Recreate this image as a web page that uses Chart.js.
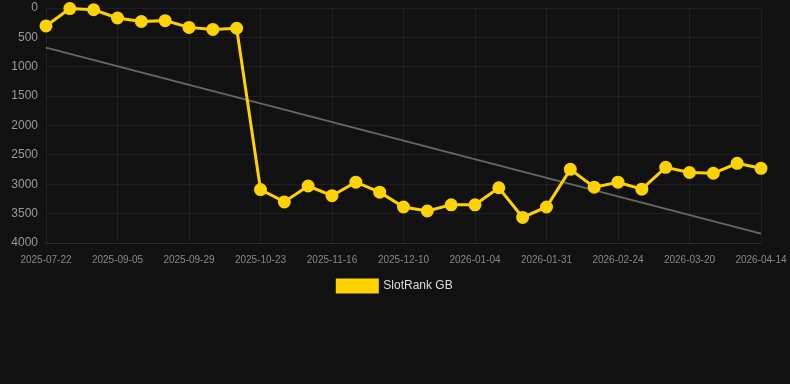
<!DOCTYPE html>
<html>
<head>
<meta charset="utf-8">
<script src="https://cdn.jsdelivr.net/npm/chart.js@4"></script>
<style>
  html, body { margin: 0; padding: 0; background: #111111; }
  #wrap { width: 790px; height: 302px; position: relative; }
</style>
</head>
<body>
<div id="wrap"><canvas id="rankChart"></canvas></div>
<script>
  // dates of the observations
  const dates = [
    '2025-07-22', '2025-08-06', '2025-08-21', '2025-09-05', '2025-09-13', '2025-09-21',
    '2025-09-29', '2025-10-07', '2025-10-15', '2025-10-23', '2025-10-31', '2025-11-08',
    '2025-11-16', '2025-11-24', '2025-12-02', '2025-12-10', '2025-12-18', '2025-12-27',
    '2026-01-04', '2026-01-13', '2026-01-22', '2026-01-31', '2026-02-08', '2026-02-16',
    '2026-02-24', '2026-03-04', '2026-03-12', '2026-03-20', '2026-03-28', '2026-04-06',
    '2026-04-14'
  ];
  // rank values (lower is better)
  const rankGB = [
    305, 10, 30, 170, 230, 215, 330, 365, 345,
    3090, 3300, 3030, 3195, 2965, 3135, 3387, 3455, 3350, 3350,
    3060, 3565, 3387, 2746, 3050, 2965, 3083, 2712, 2800, 2813,
    2644, 2729
  ];
  // trend line end points
  const trendStart = 675;
  const trendEnd = 3840;
  const yTicks = [0, 500, 1000, 1500, 2000, 2500, 3000, 3500, 4000];

  const trend = dates.map((d, i) => i === 0 ? trendStart : (i === dates.length - 1 ? trendEnd : null));

  const gridColor = 'rgba(255,255,255,0.06)';

  const ctx = document.getElementById('rankChart');
  new Chart(ctx, {
    type: 'line',
    data: {
      labels: dates,
      datasets: [{
        label: 'SlotRank GB',
        data: rankGB,
        borderColor: '#FFD200',
        backgroundColor: '#FFD200',
        borderWidth: 3,
        pointRadius: 5,
        pointHoverRadius: 5,
        pointBackgroundColor: '#FFD200',
        pointBorderColor: '#FFD200',
        tension: 0,
        clip: 8
      }, {
        label: 'trend',
        data: trend,
        spanGaps: true,
        borderColor: '#666666',
        borderWidth: 2,
        pointRadius: 0,
        tension: 0
      }]
    },
    options: {
      responsive: true,
      maintainAspectRatio: false,
      animation: false,
      layout: { padding: { top: -2 } },
      plugins: {
        legend: {
          position: 'bottom',
          labels: {
            color: '#dddddd',
            font: { family: 'Liberation Sans, Arial', size: 12 },
            boxWidth: 40,
            boxHeight: 12,
            padding: 6,
            filter: item => item.text !== 'trend'
          }
        },
        tooltip: { enabled: false }
      },
      scales: {
        x: {
          afterFit: axis => {
            axis.height = 31;
            axis.paddingLeft = 0;
            axis.paddingRight = 29;
            axis.paddingTop = 0;
            axis.paddingBottom = 0;
          },
          grid: {
            color: c => (c.tick && c.tick.label ? gridColor : 'transparent'),
            drawTicks: false
          },
          border: { color: gridColor },
          ticks: {
            color: '#888888',
            font: { family: 'Liberation Sans, Arial', size: 10 },
            maxRotation: 0,
            autoSkip: false,
            padding: 11,
            callback: function (value, index) {
              return index % 3 === 0 ? this.getLabelForValue(value) : '';
            }
          }
        },
        y: {
          reverse: true,
          min: 0,
          max: 4000,
          afterBuildTicks: axis => { axis.ticks = yTicks.map(v => ({ value: v })); },
          afterFit: axis => {
            axis.width = 46;
            axis.paddingTop = 6;
            axis.paddingBottom = 0;
          },
          grid: { color: gridColor, drawTicks: false },
          border: { display: false },
          ticks: {
            color: '#999999',
            font: { family: 'Liberation Sans, Arial', size: 12 },
            padding: 8,
            callback: v => String(v)
          }
        }
      }
    }
  });
</script>
</body>
</html>
